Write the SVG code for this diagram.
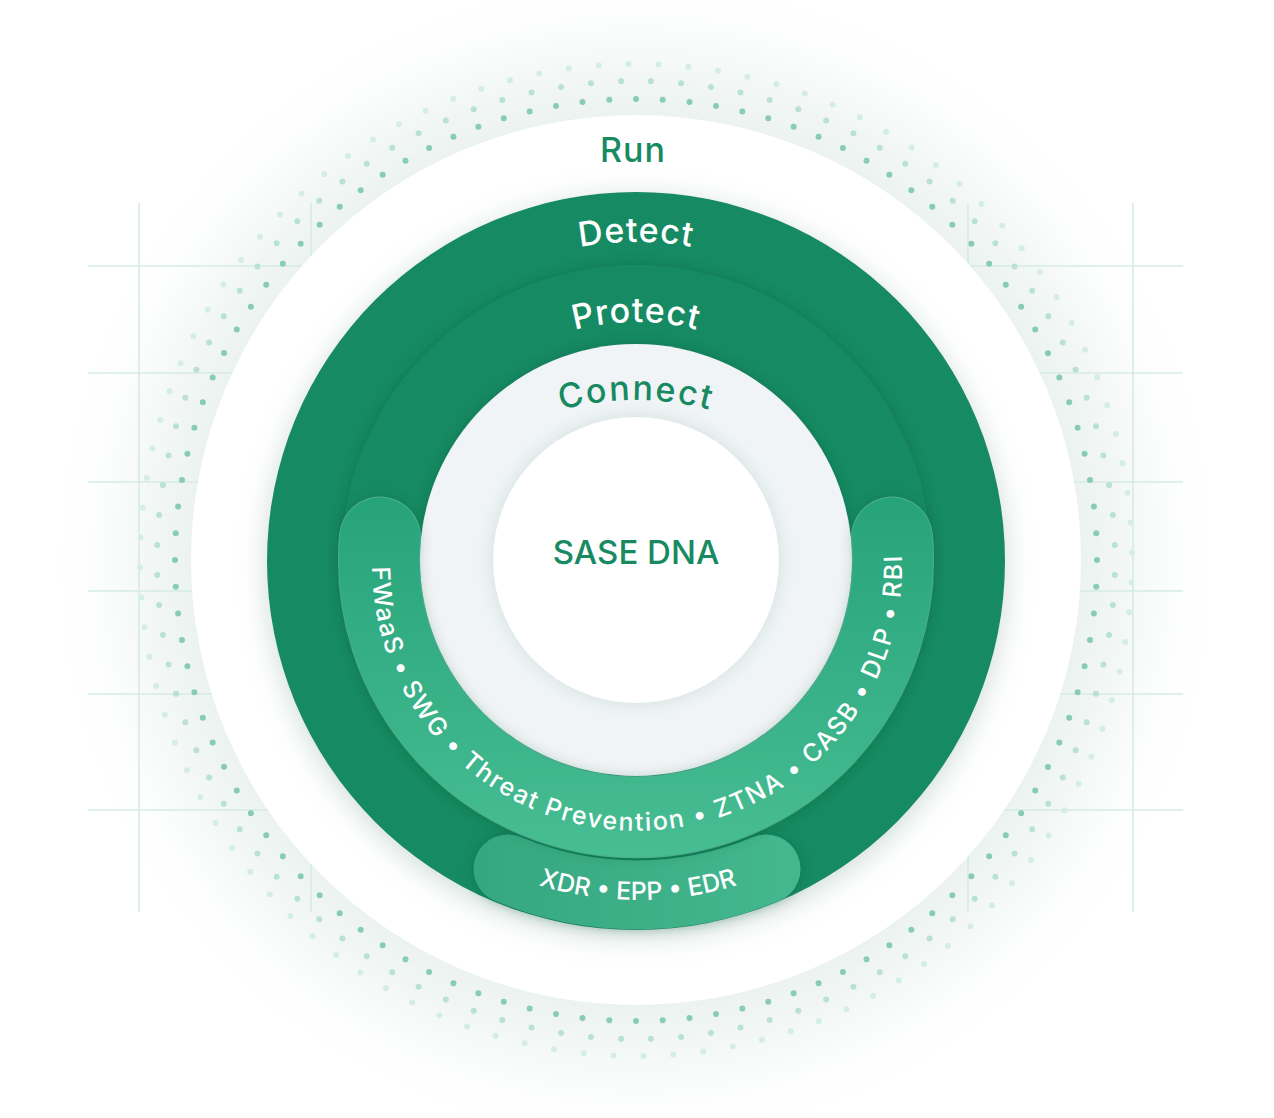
<svg xmlns="http://www.w3.org/2000/svg" width="1274" height="1118" viewBox="0 0 1274 1118">
<defs>
  <style>
    .grid line { stroke: #d6ebe3; stroke-width: 1.6; }
    .title { font-family: Inter, "Liberation Sans", sans-serif; font-weight: 500; font-size: 34px; letter-spacing: 1px; }
    .band { font-family: Inter, "Liberation Sans", sans-serif; font-weight: 500; fill: #ffffff; }
    .green { fill: #178a62; }
    .white { fill: #ffffff; }
  </style>
  <radialGradient id="halo" cx="636" cy="560" r="590" gradientUnits="userSpaceOnUse">
    <stop offset="0.72" stop-color="#e7f0ee"/>
    <stop offset="0.84" stop-color="#f1f6f5" stop-opacity="0.8"/>
    <stop offset="1" stop-color="#ffffff" stop-opacity="0"/>
  </radialGradient>
  <linearGradient id="ubandGrad" x1="0" y1="497" x2="0" y2="857" gradientUnits="userSpaceOnUse">
    <stop offset="0" stop-color="#27a37a"/>
    <stop offset="1" stop-color="#47bd93"/>
  </linearGradient>
  <linearGradient id="xbandGrad" x1="472" y1="0" x2="806" y2="0" gradientUnits="userSpaceOnUse">
    <stop offset="0" stop-color="#35a780"/>
    <stop offset="1" stop-color="#45b88f"/>
  </linearGradient>
  <filter id="fDetect" filterUnits="userSpaceOnUse" x="0" y="0" width="1274" height="1118">
    <feDropShadow dx="0" dy="6" stdDeviation="14" flood-color="#6f9a8c" flood-opacity="0.35"/>
  </filter>
  <filter id="fDark" filterUnits="userSpaceOnUse" x="0" y="0" width="1274" height="1118">
    <feDropShadow dx="0" dy="0" stdDeviation="6" flood-color="#0a4d35" flood-opacity="0.35"/>
  </filter>
  <filter id="fLight" filterUnits="userSpaceOnUse" x="0" y="0" width="1274" height="1118">
    <feDropShadow dx="0" dy="0" stdDeviation="9" flood-color="#a9c6bd" flood-opacity="0.45"/>
  </filter>
  <path id="pDetect" d="M 411.1 335.1 A 318 318 0 0 1 860.9 335.1"/>
  <path id="pProtect" d="M 467.7 391.7 A 238 238 0 0 1 804.3 391.7"/>
  <path id="pConnect" d="M 438 482 A 280 280 0 0 1 834 482"/>
  <path id="pUband" d="M 372.1 566.9 A 265 265 0 1 0 897 514"/>
  <path id="pXdr" d="M 468 854.4 A 340 340 0 0 0 808 854.4"/>
</defs>

<rect width="1274" height="1118" fill="#ffffff"/>

<g id="background">
  <circle cx="636" cy="560" r="590" fill="url(#halo)"/>
  <g class="grid">
    <line x1="88" y1="266" x2="1183" y2="266"/>
    <line x1="88" y1="373" x2="1183" y2="373"/>
    <line x1="88" y1="482" x2="1183" y2="482"/>
    <line x1="88" y1="591" x2="1183" y2="591"/>
    <line x1="88" y1="694" x2="1183" y2="694"/>
    <line x1="88" y1="810" x2="1183" y2="810"/>
    <line x1="139" y1="203" x2="139" y2="912"/>
    <line x1="311" y1="203" x2="311" y2="912"/>
    <line x1="968" y1="203" x2="968" y2="912"/>
    <line x1="1133" y1="203" x2="1133" y2="912"/>
  </g>
  <g fill="none" stroke-linecap="round" stroke-width="6">
    <circle cx="636" cy="560" r="461" pathLength="108" stroke-dasharray="0 1" stroke="#88cdb1"/>
    <circle cx="636" cy="560" r="479" pathLength="100" stroke-dasharray="0 1" stroke-dashoffset="0.5" stroke="#b9e2d0"/>
    <circle cx="636" cy="560" r="496" pathLength="104" stroke-dasharray="0 1" stroke-dashoffset="0.25" stroke="#d5eee3"/>
  </g>
</g>

<g id="run">
  <circle cx="636" cy="560" r="445" fill="#ffffff"/>
  <text class="title green" x="633" y="162" text-anchor="middle">Run</text>
</g>

<g id="detect">
  <circle cx="636" cy="561" r="369" fill="#178a62" filter="url(#fDetect)"/>
  <text class="title white"><textPath href="#pDetect" startOffset="50%" text-anchor="middle">Detect</textPath></text>
</g>

<g id="protect">
  <circle cx="636" cy="560" r="295" fill="#178a62" filter="url(#fDark)"/>
  <text class="title white"><textPath href="#pProtect" startOffset="50%" text-anchor="middle">Protect</textPath></text>
</g>

<g id="connect">
  <circle cx="636" cy="560" r="216" fill="#f0f4f6" filter="url(#fDark)"/>
  <text class="title green" style="letter-spacing:2px"><textPath href="#pConnect" startOffset="50%" text-anchor="middle">Connect</textPath></text>
</g>

<g id="sase-dna">
  <circle cx="636" cy="560" r="143" fill="#ffffff" filter="url(#fLight)"/>
  <text class="title green" style="font-size:33px;letter-spacing:0" x="636" y="564" text-anchor="middle">SASE DNA</text>
</g>

<g id="xdr-band">
  <path d="M 508 869 A 334.5 334.5 0 0 0 766 869" fill="none" stroke="url(#xbandGrad)" stroke-width="69" stroke-linecap="round" filter="url(#fDark)"/>
  <text class="band" font-size="25"><textPath href="#pXdr" startOffset="50%" text-anchor="middle">XDR • EPP • EDR</textPath></text>
</g>

<g id="protect-band">
  <path d="M 380 537.6 A 257 257 0 1 0 892 537.6" fill="none" stroke="#6ccaa6" stroke-opacity="0.6" stroke-width="82" stroke-linecap="round" filter="url(#fDark)"/>
  <path d="M 380 537.6 A 257 257 0 1 0 892 537.6" fill="none" stroke="url(#ubandGrad)" stroke-width="80" stroke-linecap="round"/>
  <text class="band" font-size="25" style="letter-spacing:1.8px"><textPath href="#pUband">FWaaS • SWG • Threat Prevention • ZTNA • CASB • DLP • RBI</textPath></text>
</g>

<g id="connectors"></g>
</svg>
